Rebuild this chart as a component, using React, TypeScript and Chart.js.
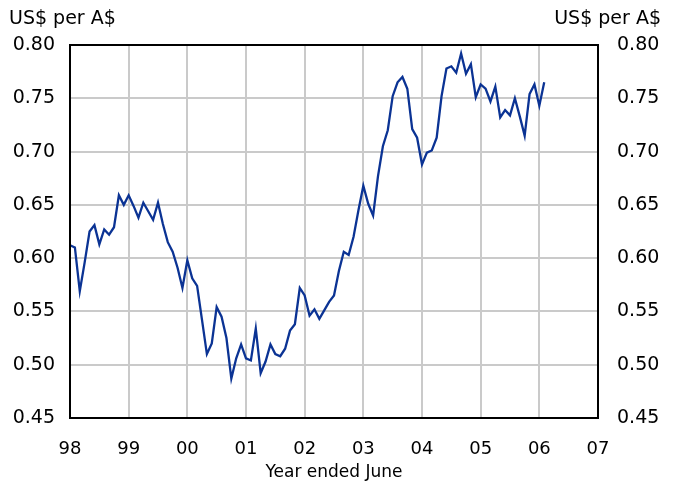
import { useEffect, useRef } from 'react';
import { Chart, registerables } from 'chart.js';

Chart.register(...registerables);

// Year boundary labels (year ended June), one per 12 months from the left edge
const yearLabels = ['98', '99', '00', '01', '02', '03', '04', '05', '06', '07'];

// Monthly US$ per A$ values, starting at the '98' boundary
const rate = [
  0.612, 0.610, 0.569, 0.596, 0.625, 0.631, 0.613, 0.627, 0.622, 0.629, 0.659, 0.650,
  0.659, 0.649, 0.638, 0.652, 0.644, 0.636, 0.652, 0.632, 0.615, 0.606, 0.591, 0.572,
  0.598, 0.581, 0.574, 0.542, 0.510, 0.520, 0.554, 0.545, 0.525, 0.487, 0.506, 0.519,
  0.506, 0.504, 0.534, 0.492, 0.503, 0.519, 0.510, 0.508, 0.515, 0.532, 0.538, 0.572,
  0.565, 0.546, 0.552, 0.543, 0.551, 0.559, 0.565, 0.588, 0.606, 0.603, 0.620, 0.645,
  0.668, 0.651, 0.640, 0.677, 0.705, 0.720, 0.752, 0.765, 0.770, 0.759, 0.721, 0.713,
  0.688, 0.699, 0.701, 0.713, 0.752, 0.778, 0.780, 0.774, 0.792, 0.773, 0.782, 0.751,
  0.763, 0.759, 0.747, 0.761, 0.732, 0.739, 0.734, 0.750, 0.733, 0.715, 0.754, 0.763,
  0.743, 0.765,
];

const yMin = 0.45;
const yMax = 0.8;
const yStep = 0.05;
const unitLabel = 'US$ per A$';
const xTitle = 'Year ended June';

const FONT = '"DejaVu Sans", "Liberation Sans", Arial, sans-serif';

export default function App() {
  const ref = useRef<HTMLCanvasElement>(null);

  useEffect(() => {
    const canvas = ref.current;
    if (!canvas) return;

    const framePlugin = {
      id: 'frame',
      afterDraw(chart: any) {
        const { ctx, chartArea } = chart;
        const { left, top, right, bottom } = chartArea;
        ctx.save();
        ctx.strokeStyle = '#000';
        ctx.lineWidth = 2;
        ctx.strokeRect(left, top, right - left, bottom - top);
        ctx.fillStyle = '#000';
        ctx.font = `19px ${FONT}`;
        ctx.textBaseline = 'middle';
        ctx.textAlign = 'left';
        ctx.fillText(unitLabel, 9, 19);
        ctx.textAlign = 'right';
        ctx.fillText(unitLabel, 661, 19);
        ctx.restore();
      },
    };

    const points = rate.map((v, i) => ({ x: i, y: v }));

    const chart = new Chart(canvas, {
      type: 'line',
      data: {
        datasets: [
          {
            data: points,
            borderColor: '#0b3394',
            borderWidth: 2.3,
            pointRadius: 0,
            tension: 0,
            yAxisID: 'y',
            xAxisID: 'x',
          },
        ],
      },
      options: {
        responsive: false,
        animation: false,
        devicePixelRatio: 1,
        layout: { padding: { top: 45, left: 0, right: 0, bottom: 0 } },
        plugins: {
          legend: { display: false },
          tooltip: { enabled: false },
          title: { display: false },
        },
        scales: {
          x: {
            type: 'linear',
            min: 0,
            max: (yearLabels.length - 1) * 12,
            border: { display: false },
            grid: { color: '#cacaca', lineWidth: 2, drawTicks: false },
            ticks: {
              stepSize: 12,
              autoSkip: false,
              maxRotation: 0,
              padding: 21,
              color: '#000',
              font: { family: FONT, size: 18 },
              callback: (v: any) => yearLabels[Math.round(Number(v) / 12)] ?? '',
            },
            title: {
              display: true,
              text: xTitle,
              color: '#000',
              font: { family: FONT, size: 17 },
              padding: { top: 0, bottom: 0 },
            },
            afterFit: (s: any) => {
              s.height = 65;
            },
          },
          y: {
            type: 'linear',
            position: 'left',
            min: yMin,
            max: yMax,
            border: { display: false },
            grid: { color: '#cacaca', lineWidth: 2, drawTicks: false },
            ticks: {
              stepSize: yStep,
              padding: 15,
              color: '#000',
              font: { family: FONT, size: 19 },
              callback: (v: any) => Number(v).toFixed(2),
            },
            afterFit: (s: any) => {
              s.width = 70;
            },
          },
          y2: {
            type: 'linear',
            position: 'right',
            min: yMin,
            max: yMax,
            border: { display: false },
            grid: { display: false, drawTicks: false },
            ticks: {
              stepSize: yStep,
              padding: 19,
              color: '#000',
              font: { family: FONT, size: 19 },
              callback: (v: any) => Number(v).toFixed(2),
            },
            afterFit: (s: any) => {
              s.width = 82;
            },
          },
        },
      },
      plugins: [framePlugin],
    });

    return () => chart.destroy();
  }, []);

  return (
    <div style={{ position: 'fixed', left: 0, top: 0, width: 680, height: 483, background: '#fff' }}>
      <canvas ref={ref} width={680} height={483} style={{ display: 'block' }} />
    </div>
  );
}
